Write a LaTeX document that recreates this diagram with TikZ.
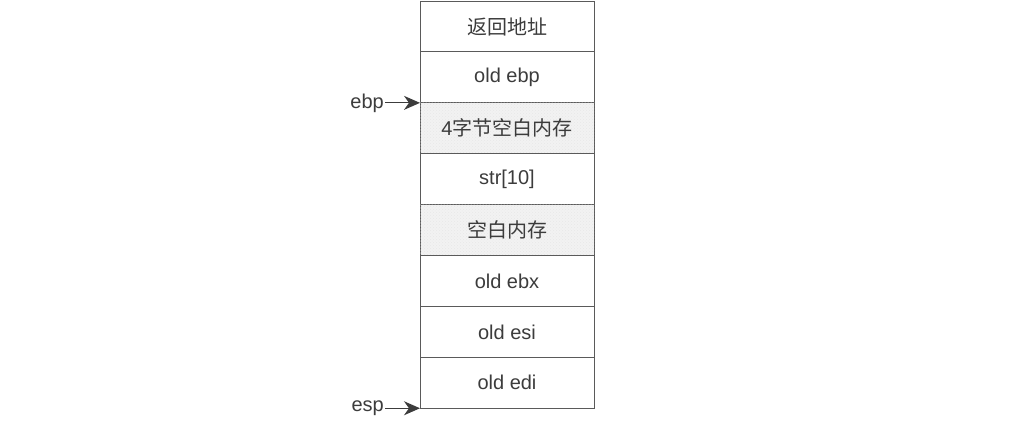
\documentclass[tikz,border=0pt]{standalone}
\usepackage{fontspec}
\setmainfont{Liberation Sans}
\newfontfamily\cjk{Noto Sans CJK SC}
\usepackage{tikz}
\usetikzlibrary{positioning}
\usetikzlibrary{arrows.meta}
\usetikzlibrary{patterns}
\definecolor{framegray}{HTML}{5A5A5A}
\definecolor{textgray}{HTML}{3C3C3C}
\tikzset{cell/.style={rectangle,draw=framegray,line width=1pt,minimum width=174pt,minimum height=50.9pt,inner sep=0pt,outer sep=0pt,text=textgray,font=\fontsize{20}{24}\selectfont},
  blank cell/.style={cell,fill=black!5,postaction={pattern=crosshatch dots,pattern color=black!9}},
  reg label/.style={text=textgray,inner sep=1pt,font=\fontsize{20}{24}\selectfont},
  reg arrow/.style={-{Stealth[length=16pt,width=14pt,inset=5pt]},draw=textgray,fill=textgray,line width=1.2pt},}

\begin{document}
\begin{tikzpicture}[x=1pt,y=1pt,node distance=0pt]
    \useasboundingbox (0,0) rectangle (1031,-421);
    \node[cell] (ret) at (507,-26.5) {\cjk 返回地址};
    \node[cell] (oldebp) [below = of ret] {old ebp};
    \node[blank cell] (pad4) [below = of oldebp] {4\cjk 字节空白内存};
    \node[cell] (str) [below = of pad4] {str[10]};
    \node[blank cell] (pad) [below = of str] {\cjk 空白内存};
    \node[cell] (oldebx) [below = of pad] {old ebx};
    \node[cell] (oldesi) [below = of oldebx] {old esi};
    \node[cell] (oldedi) [below = of oldesi] {old edi};

    \node[reg label] (ebp) [left = 35pt of pad4.north west] {ebp};
    \node[reg label] (esp) [left = 35pt of oldedi.south west] {esp};

    \draw[reg arrow] (ebp) -- (pad4.north west);
    \draw[reg arrow] (esp) -- (oldedi.south west);
\end{tikzpicture}
\end{document}
